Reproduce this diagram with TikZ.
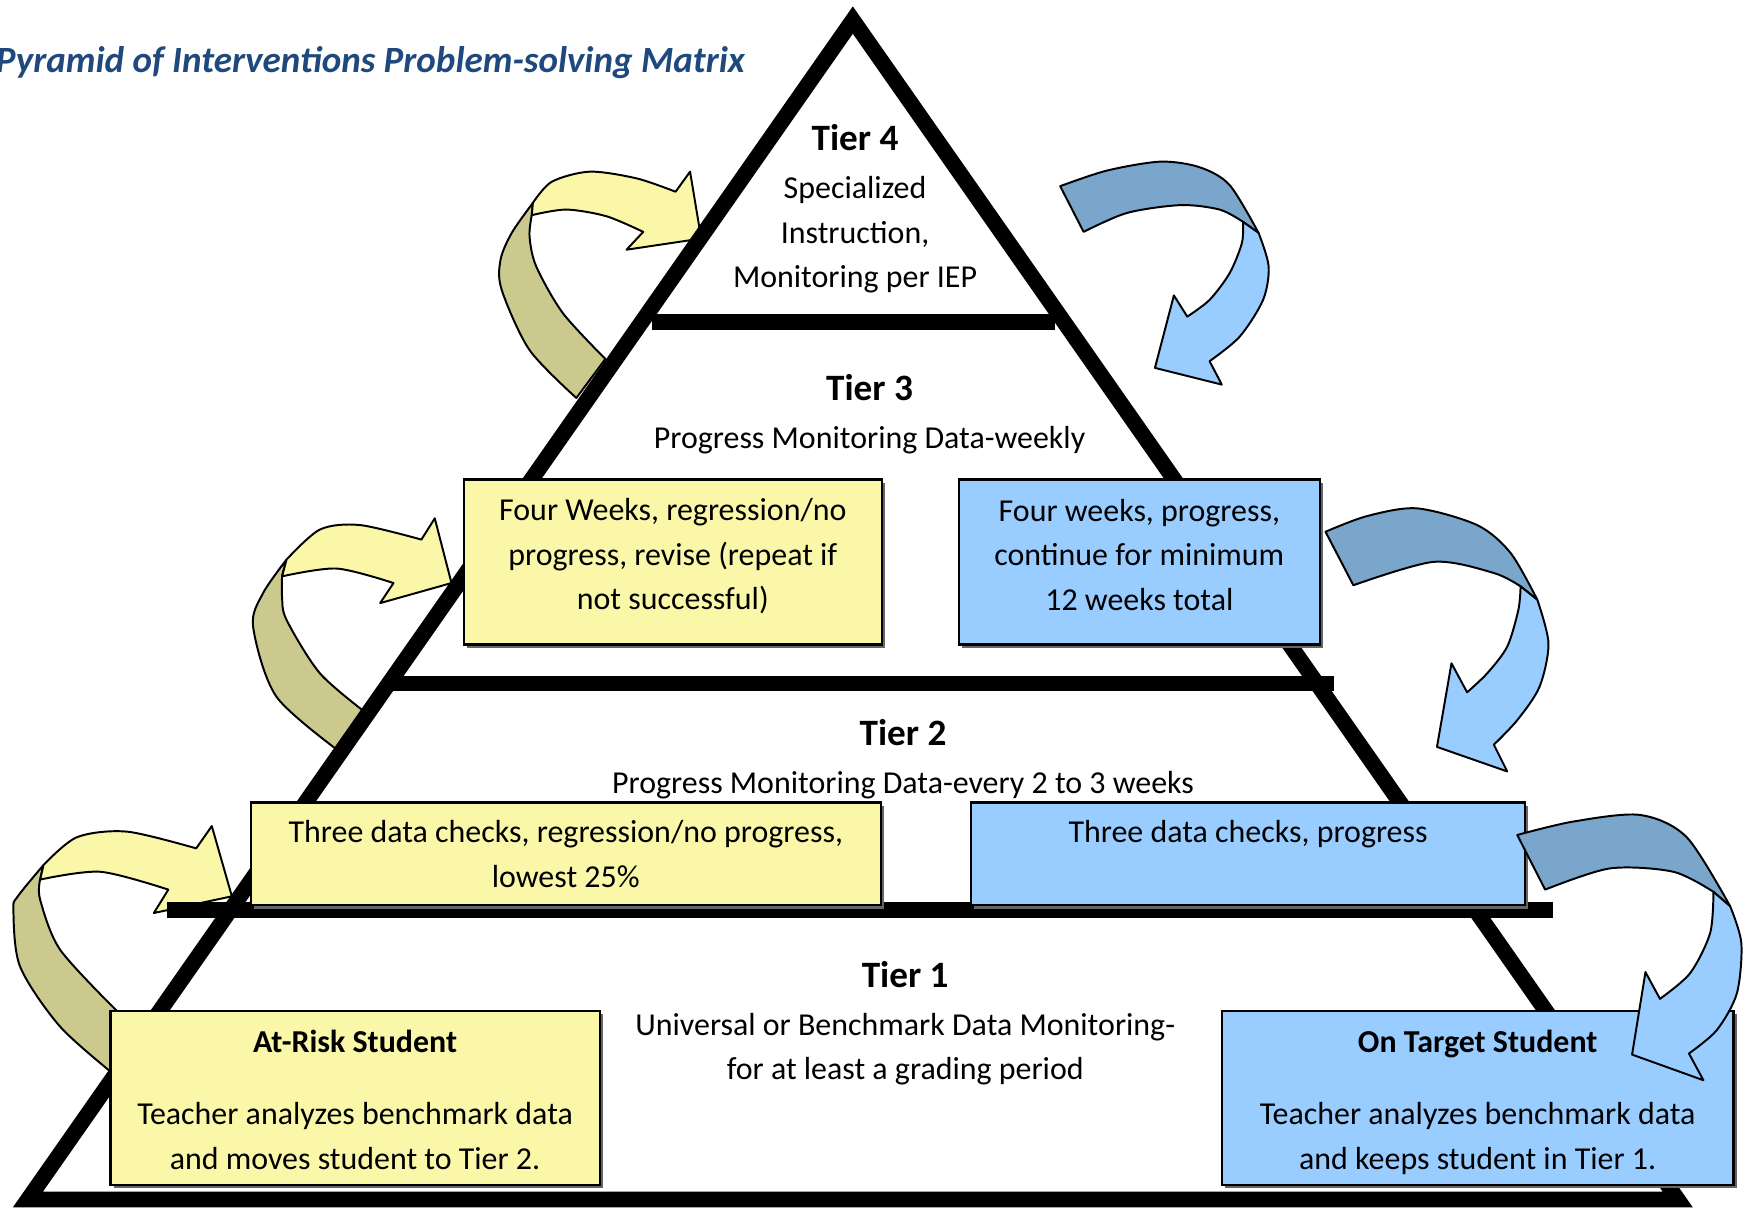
\documentclass[tikz,border=0pt]{standalone}
\usepackage{fontspec}
\setmainfont{Carlito}
\usetikzlibrary{shadows}
\definecolor{boxyellow}{RGB}{250,247,169}
\definecolor{boxblue}{RGB}{153,204,255}
\definecolor{backolive}{RGB}{204,201,142}
\definecolor{backsteel}{RGB}{122,166,204}
\definecolor{titleblue}{RGB}{31,73,125}
\newcommand{\tierhead}[1]{{\fontsize{9.5}{11.4}\selectfont\bfseries #1}}

\begin{document}
\begin{tikzpicture}[
    pyrline/.style={line width=4pt, black},
    tiertext/.style={align=center, inner sep=0pt, font=\fontsize{8.15}{11.4}\selectfont},
    tierbox/.style={draw=black, line width=0.6pt, inner sep=0pt, align=center,
        font=\fontsize{8.15}{11.4}\selectfont,
        drop shadow={shadow xshift=0.3mm, shadow yshift=-0.3mm, fill=black!60, opacity=1}},
    yellowbox/.style={tierbox, fill=boxyellow},
    bluebox/.style={tierbox, fill=boxblue},
    ribbon/.style={draw=black, line width=0.5pt, line join=round},
    olivepart/.style={ribbon, fill=backolive},
    yellowpart/.style={ribbon, fill=boxyellow},
    steelpart/.style={ribbon, fill=backsteel},
    bluepart/.style={ribbon, fill=boxblue}
]
    \useasboundingbox (0,0) rectangle (15.68,-10.83);

    \node[anchor=base east, inner sep=0pt, text=titleblue,
        font=\fontsize{9.45}{11.4}\selectfont\bfseries\itshape] (title) at (6.69,-0.65)
        {Pyramid of Interventions Problem-solving Matrix};

    \filldraw[olivepart] plot[smooth] coordinates {(5.17,-3.57) (4.75,-3.14) (4.50,-2.60) (4.49,-2.33) (4.59,-2.09) (4.78,-1.82)}
        -- plot[smooth] coordinates {(4.77,-1.93) (4.75,-2.12) (4.81,-2.39) (5.05,-2.81) (5.43,-3.22)} -- cycle;
    \filldraw[yellowpart] plot[smooth] coordinates {(4.78,-1.82) (4.95,-1.63) (5.29,-1.54) (5.71,-1.60) (6.06,-1.72)}
        -- (6.19,-1.54) -- (6.29,-2.14) -- (5.62,-2.24)
        -- plot[smooth] coordinates {(5.77,-2.08) (5.44,-1.94) (5.08,-1.88) (4.77,-1.93)} -- cycle;

    \filldraw[olivepart] plot[smooth] coordinates {(3.07,-6.76) (2.48,-6.25) (2.27,-5.62) (2.36,-5.32) (2.57,-5.02)}
        -- plot[smooth] coordinates {(2.53,-5.17) (2.53,-5.35) (2.57,-5.56) (2.87,-6.04) (3.29,-6.40)} -- cycle;
    \filldraw[yellowpart] plot[smooth] coordinates {(2.57,-5.02) (2.87,-4.75) (3.23,-4.71) (3.78,-4.84)}
        -- (3.90,-4.65) -- (4.05,-5.23) -- (3.41,-5.41)
        -- plot[smooth] coordinates {(3.53,-5.23) (3.02,-5.10) (2.53,-5.17)} -- cycle;

    \filldraw[olivepart] plot[smooth] coordinates {(1.05,-9.66) (0.54,-9.21) (0.18,-8.67) (0.12,-8.16) (0.16,-8.04) (0.39,-7.76)}
        -- plot[smooth] coordinates {(0.36,-7.89) (0.36,-8.07) (0.54,-8.52) (1.05,-9.07)} -- cycle;
    \filldraw[yellowpart] plot[smooth] coordinates {(0.39,-7.76) (0.69,-7.51) (1.14,-7.46) (1.76,-7.61)}
        -- (1.90,-7.41) -- (2.08,-8.04) -- (1.38,-8.19)
        -- plot[smooth] coordinates {(1.51,-7.98) (0.90,-7.82) (0.36,-7.89)} -- cycle;

    \filldraw[steelpart] plot[smooth] coordinates {(9.51,-1.67) (9.93,-1.53) (10.41,-1.45) (10.76,-1.50) (11.03,-1.66) (11.29,-2.09)}
        -- plot[smooth] coordinates {(11.15,-1.99) (10.94,-1.88) (10.59,-1.84) (10.11,-1.91) (9.72,-2.08)} -- cycle;
    \filldraw[bluepart] plot[smooth] coordinates {(11.15,-1.99) (11.14,-2.18) (11.03,-2.45) (10.85,-2.69) (10.65,-2.84)}
        -- (10.53,-2.65) -- (10.36,-3.30) -- (10.96,-3.45)
        -- plot[smooth] coordinates {(10.85,-3.24) (11.12,-3.02) (11.33,-2.69) (11.38,-2.39) (11.29,-2.09)} -- cycle;

    \filldraw[steelpart] plot[smooth] coordinates {(11.89,-4.77) (12.26,-4.63) (12.71,-4.56) (13.25,-4.71) (13.55,-4.96) (13.79,-5.38)}
        -- plot[smooth] coordinates {(13.64,-5.26) (13.40,-5.14) (12.86,-5.04) (12.14,-5.25)} -- cycle;
    \filldraw[bluepart] plot[smooth] coordinates {(13.64,-5.26) (13.62,-5.47) (13.52,-5.80) (13.34,-6.04) (13.16,-6.21)}
        -- (13.02,-5.95) -- (12.89,-6.70) -- (13.52,-6.92)
        -- plot[smooth] coordinates {(13.40,-6.68) (13.61,-6.46) (13.81,-6.16) (13.89,-5.77) (13.79,-5.38)} -- cycle;

    \draw[pyrline, line join=miter] (7.65,-0.18) -- (15.05,-10.76) -- (0.25,-10.76) -- cycle;
    \draw[pyrline] (5.85,-2.89) -- (9.46,-2.89);
    \draw[pyrline] (3.50,-6.13) -- (11.97,-6.13);
    \draw[pyrline] (1.50,-8.16) -- (13.93,-8.16);

    \node[tiertext, anchor=north] (tierfour) at (7.67,-1.11)
        {\tierhead{Tier 4}\\[0.8pt] Specialized\\ Instruction,\\ Monitoring per IEP};
    \node[tiertext, anchor=north] (tierthree) at (7.80,-3.355)
        {\tierhead{Tier 3}\\[0.8pt] Progress Monitoring Data-weekly};
    \node[tiertext, anchor=north] (tiertwo) at (8.10,-6.45)
        {\tierhead{Tier 2}\\[0.8pt] Progress Monitoring Data-every 2 to 3 weeks};
    \node[tiertext, anchor=north] (tierone) at (8.12,-8.615)
        {\tierhead{Tier 1}\\[0.8pt] Universal or Benchmark Data Monitoring-\\ for at least a grading period};

    \node[yellowbox, minimum width=3.75cm, minimum height=1.48cm, text depth=4.0pt] (fourwkno) at (6.035,-5.04)
        {Four Weeks, regression/no\\ progress, revise (repeat if\\ not successful)};
    \node[bluebox, minimum width=3.24cm, minimum height=1.48cm, text depth=3.6pt] (fourwkok) at (10.22,-5.04)
        {Four weeks, progress,\\ continue for minimum\\ 12 weeks total};
    \node[yellowbox, minimum width=5.65cm, minimum height=0.92cm] (threechkno) at (5.075,-7.66)
        {Three data checks, regression/no progress,\\ lowest 25\%};
    \node[bluebox, minimum width=4.97cm, minimum height=0.92cm] (threechkok) at (11.195,-7.66)
        {Three data checks, progress\\ \mbox{}};
    \node[yellowbox, minimum width=4.39cm, minimum height=1.56cm] (atrisk) at (3.185,-9.85)
        {\rule{0pt}{6.8pt}\textbf{At-Risk Student}\\[7pt] Teacher analyzes benchmark data\\ and moves student to Tier 2.};
    \node[bluebox, minimum width=4.59cm, minimum height=1.56cm] (ontarget) at (13.255,-9.85)
        {\rule{0pt}{8pt}\textbf{On Target Student}\\[7pt] Teacher analyzes benchmark data\\ and keeps student in Tier 1.};

    \filldraw[steelpart] plot[smooth] coordinates {(13.61,-7.49) (14.11,-7.37) (14.71,-7.31) (15.13,-7.51) (15.52,-8.13)}
        -- plot[smooth] coordinates {(15.37,-8.00) (15.01,-7.82) (14.44,-7.79) (13.86,-7.98)} -- cycle;
    \filldraw[bluepart] plot[smooth] coordinates {(15.37,-8.00) (15.34,-8.37) (15.16,-8.73) (14.89,-8.96)}
        -- (14.76,-8.72) -- (14.64,-9.46) -- (15.28,-9.69)
        -- plot[smooth] coordinates {(15.15,-9.45) (15.40,-9.24) (15.58,-8.91) (15.62,-8.46) (15.52,-8.13)} -- cycle;
\end{tikzpicture}
\end{document}
